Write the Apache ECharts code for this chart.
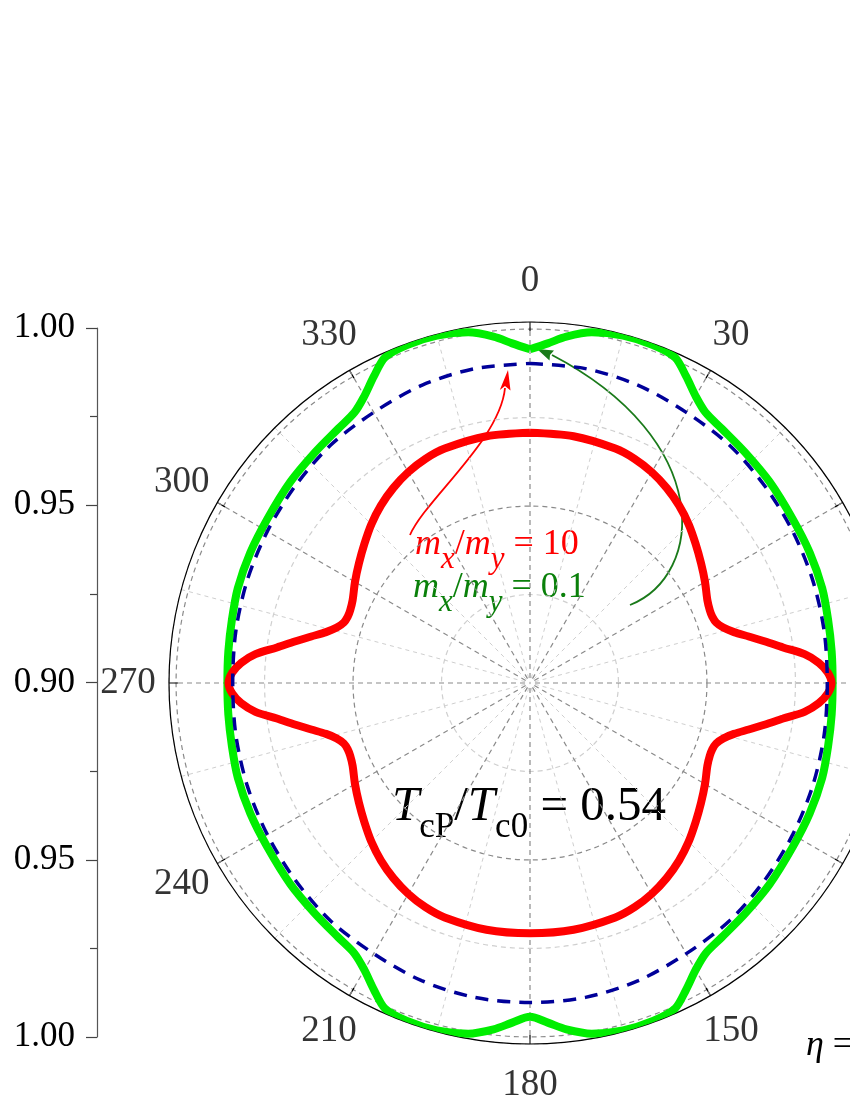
<!DOCTYPE html>
<html>
<head>
<meta charset="utf-8">
<script src="https://cdn.jsdelivr.net/npm/echarts@6.0.0/dist/echarts.min.js"></script>
<style>
  html, body { margin: 0; padding: 0; background: #fff; }
  #main { width: 850px; height: 1100px; }
</style>
</head>
<body>
<div id="main"></div>
<script>
// angles in degrees, clockwise from the top; values on the radial scale (0.90 at centre)
var redAngle = [0, 10, 20, 25, 30, 35, 40, 45, 50, 55, 60, 65, 68, 70, 72, 74, 76, 78, 80, 82, 84, 86, 88, 90,
  92, 94, 96, 98, 100, 102, 104, 106, 108, 110, 112, 115, 120, 125, 130, 135, 140, 145, 150, 155, 160, 170, 180,
  190, 200, 205, 210, 215, 220, 225, 230, 235, 240, 245, 248, 250, 252, 254, 256, 258, 260, 262, 264, 266, 268, 270,
  272, 274, 276, 278, 280, 282, 284, 286, 288, 290, 292, 295, 300, 305, 310, 315, 320, 325, 330, 335, 340, 350, 360]
var redValue = [0.9707, 0.9708, 0.9705, 0.9699, 0.9688, 0.9673, 0.9655, 0.9634, 0.9611, 0.9590, 0.9571, 0.9553, 0.9548, 0.9548, 0.9553, 0.9568, 0.9594, 0.9632, 0.9675, 0.9722, 0.9780, 0.9818, 0.9842, 0.9852,
  0.9842, 0.9818, 0.9780, 0.9722, 0.9675, 0.9632, 0.9594, 0.9568, 0.9553, 0.9548, 0.9548, 0.9553, 0.9571, 0.9590, 0.9611, 0.9634, 0.9655, 0.9673, 0.9688, 0.9699, 0.9705, 0.9708, 0.9707,
  0.9708, 0.9705, 0.9699, 0.9688, 0.9673, 0.9655, 0.9634, 0.9611, 0.9590, 0.9571, 0.9553, 0.9548, 0.9548, 0.9553, 0.9568, 0.9594, 0.9632, 0.9675, 0.9722, 0.9780, 0.9818, 0.9842, 0.9852,
  0.9842, 0.9818, 0.9780, 0.9722, 0.9675, 0.9632, 0.9594, 0.9568, 0.9553, 0.9548, 0.9548, 0.9553, 0.9571, 0.9590, 0.9611, 0.9634, 0.9655, 0.9673, 0.9688, 0.9699, 0.9705, 0.9708, 0.9707]

var greenAngle = [0, 3, 6, 10, 15, 20, 24, 27, 30, 33, 37, 43, 50, 58, 65, 72, 78, 84, 90,
  96, 102, 108, 115, 122, 130, 137, 143, 147, 150, 153, 156, 160, 165, 170, 174, 177, 180,
  183, 186, 190, 195, 200, 204, 207, 210, 213, 217, 223, 230, 238, 245, 252, 258, 264, 270,
  276, 282, 288, 295, 302, 310, 317, 323, 327, 330, 333, 336, 340, 345, 350, 354, 357, 360]
var greenValue = [0.9943, 0.9961, 0.9984, 1.0006, 1.0016, 1.0016, 1.0007, 0.9972, 0.9936, 0.9911, 0.9900, 0.9891, 0.9884, 0.9875, 0.9872, 0.9868, 0.9861, 0.9857, 0.9855,
  0.9857, 0.9861, 0.9868, 0.9872, 0.9875, 0.9884, 0.9891, 0.9900, 0.9911, 0.9936, 0.9972, 1.0007, 1.0016, 1.0016, 1.0006, 0.9984, 0.9961, 0.9943,
  0.9961, 0.9984, 1.0006, 1.0016, 1.0016, 1.0007, 0.9972, 0.9936, 0.9911, 0.9900, 0.9891, 0.9884, 0.9875, 0.9872, 0.9868, 0.9861, 0.9857, 0.9855,
  0.9857, 0.9861, 0.9868, 0.9872, 0.9875, 0.9884, 0.9891, 0.9900, 0.9911, 0.9936, 0.9972, 1.0007, 1.0016, 1.0016, 1.0006, 0.9984, 0.9961, 0.9943]

var blueAngle = [0, 10, 20, 30, 40, 50, 60, 70, 80, 90, 100, 110, 120, 130, 140, 150, 160, 170, 180,
  190, 200, 210, 220, 230, 240, 250, 260, 270, 280, 290, 300, 310, 320, 330, 340, 350, 360]
var blueValue = [0.9903, 0.9902, 0.9895, 0.9883, 0.9877, 0.9866, 0.9857, 0.9850, 0.9844, 0.9840, 0.9844, 0.9850, 0.9857, 0.9866, 0.9877, 0.9883, 0.9895, 0.9902, 0.9903,
  0.9902, 0.9895, 0.9883, 0.9877, 0.9866, 0.9857, 0.9850, 0.9844, 0.9840, 0.9844, 0.9850, 0.9857, 0.9866, 0.9877, 0.9883, 0.9895, 0.9902, 0.9903]

var angleTicks = [0, 30, 60, 90, 120, 150, 180, 210, 240, 270, 300, 330]

var serif = 'Liberation Serif'
var gridDark = '#8a8a8a'
var gridLight = '#cfcfcf'

function pairs(angles, values) {
  return angles.map(function (a, i) { return [values[i], a] })
}

function formula(color, size, sub, subDrop, text) {
  return {
    text: text,
    align: 'left',
    verticalAlign: 'bottom',
    rich: {
      i: { fontFamily: serif, fontStyle: 'italic', fontSize: size, lineHeight: size, padding: [0, 0, subDrop, 0], verticalAlign: 'bottom', fill: color },
      s: { fontFamily: serif, fontStyle: 'italic', fontSize: sub, lineHeight: sub, verticalAlign: 'bottom', fill: color },
      r: { fontFamily: serif, fontSize: sub, lineHeight: sub, verticalAlign: 'bottom', fill: color },
      n: { fontFamily: serif, fontSize: size, lineHeight: size, padding: [0, 0, subDrop, 0], verticalAlign: 'bottom', fill: color }
    }
  }
}

var chart = echarts.init(document.getElementById('main'))

var option = {
  backgroundColor: '#fff',
  animation: false,
  polar: { center: [530, 683], radius: 361 },
  angleAxis: {
    type: 'value',
    min: 0,
    max: 360,
    interval: 30,
    startAngle: 90,
    clockwise: true,
    axisLine: { show: true, lineStyle: { color: '#000', width: 1.2 } },
    axisTick: { show: true, inside: true, length: 9, lineStyle: { color: '#000', width: 1.2 } },
    axisLabel: { show: false },
    minorTick: { show: false, splitNumber: 2 },
    splitLine: { show: true, lineStyle: { color: gridDark, width: 1.2, type: [5, 4] } },
    minorSplitLine: { show: true, lineStyle: { color: gridLight, width: 1, type: [4, 4] } }
  },
  radiusAxis: {
    type: 'value',
    min: 0.9,
    max: 1.002,
    interval: 0.025,
    axisLine: { show: false },
    axisTick: { show: false },
    axisLabel: { show: false },
    splitLine: { show: true, lineStyle: { color: [gridDark, gridLight], width: 1.2, type: [5, 4] } }
  },
  grid: { left: 97, top: 328, width: 10, height: 709 },
  xAxis: { type: 'value', show: false },
  yAxis: {
    type: 'value',
    min: -0.1,
    max: 0.1,
    interval: 0.05,
    position: 'left',
    axisLine: { show: true, lineStyle: { color: '#555', width: 1.2 } },
    axisTick: { show: true, length: 11, lineStyle: { color: '#444', width: 1.2 } },
    minorTick: { show: true, splitNumber: 2, length: 7, lineStyle: { color: '#444', width: 1.2 } },
    splitLine: { show: false },
    axisLabel: {
      margin: 22,
      color: '#000',
      fontFamily: serif,
      fontSize: 35,
      formatter: function (v) { return (0.9 + Math.abs(v)).toFixed(2) }
    }
  },
  series: [{
    name: 'mx/my = 0.1',
    type: 'line',
    coordinateSystem: 'polar',
    data: pairs(greenAngle, greenValue),
    symbol: 'none',
    smooth: 0.3,
    clip: false,
    lineStyle: { color: '#00ee00', width: 8 }
  }, {
    name: 'mx/my = 10',
    type: 'line',
    coordinateSystem: 'polar',
    data: pairs(redAngle, redValue),
    symbol: 'none',
    smooth: 0.3,
    clip: false,
    lineStyle: { color: '#ff0000', width: 8 }
  }, {
    name: 'isotropic',
    type: 'line',
    coordinateSystem: 'polar',
    data: pairs(blueAngle, blueValue),
    symbol: 'none',
    smooth: 0.3,
    clip: false,
    lineStyle: { color: '#000099', width: 3.5, type: [13, 9] }
  }, {
    name: 'angle labels',
    type: 'scatter',
    coordinateSystem: 'polar',
    clip: false,
    symbolSize: 1,
    itemStyle: { color: 'rgba(0,0,0,0)' },
    data: angleTicks.map(function (a) { return { value: [1.0136, a], name: String(a) } }),
    label: {
      show: true,
      position: 'inside',
      formatter: '{b}',
      color: '#000',
      fontFamily: serif,
      fontSize: 37
    }
  }],
  graphic: [
    // red annotation arrow
    { type: 'bezierCurve', shape: { x1: 410, y1: 535, cpx1: 425, cpy1: 500, cpx2: 500, cpy2: 440, x2: 505, y2: 388 },
      style: { stroke: '#ff0000', lineWidth: 1.8, fill: null } },
    { type: 'polygon', shape: { points: [[508, 370], [499.8, 390], [505, 386], [510.5, 390.5]] }, style: { fill: '#ff0000' } },
    // green annotation arrow
    { type: 'bezierCurve', shape: { x1: 630, y1: 605, cpx1: 705, cpy1: 575, cpx2: 715, cpy2: 440, x2: 552, y2: 355 },
      style: { stroke: '#1a7a1a', lineWidth: 1.8, fill: null } },
    { type: 'polygon', shape: { points: [[537, 349], [554, 350.5], [550, 355], [549.5, 360.5]] }, style: { fill: '#1a7a1a' } },
    { type: 'text', x: 415, y: 575, style: formula('#ff0000', 36, 31, 12, '{i|m}{s|x}{n|/}{i|m}{s|y}{n| = 10}') },
    { type: 'text', x: 413, y: 618, style: formula('#0a800a', 36, 31, 12, '{i|m}{s|x}{n|/}{i|m}{s|y}{n| = 0.1}') },
    { type: 'text', x: 392, y: 845, style: formula('#000', 49, 35, 13, '{i|T}{r|cP}{n|/}{i|T}{r|c0}{n| = 0.54}') },
    { type: 'text', x: 806, y: 1064, style: formula('#000', 36, 30, 0, '{i|η}{n| =}') }
  ]
}

chart.setOption(option)
</script>
</body>
</html>
